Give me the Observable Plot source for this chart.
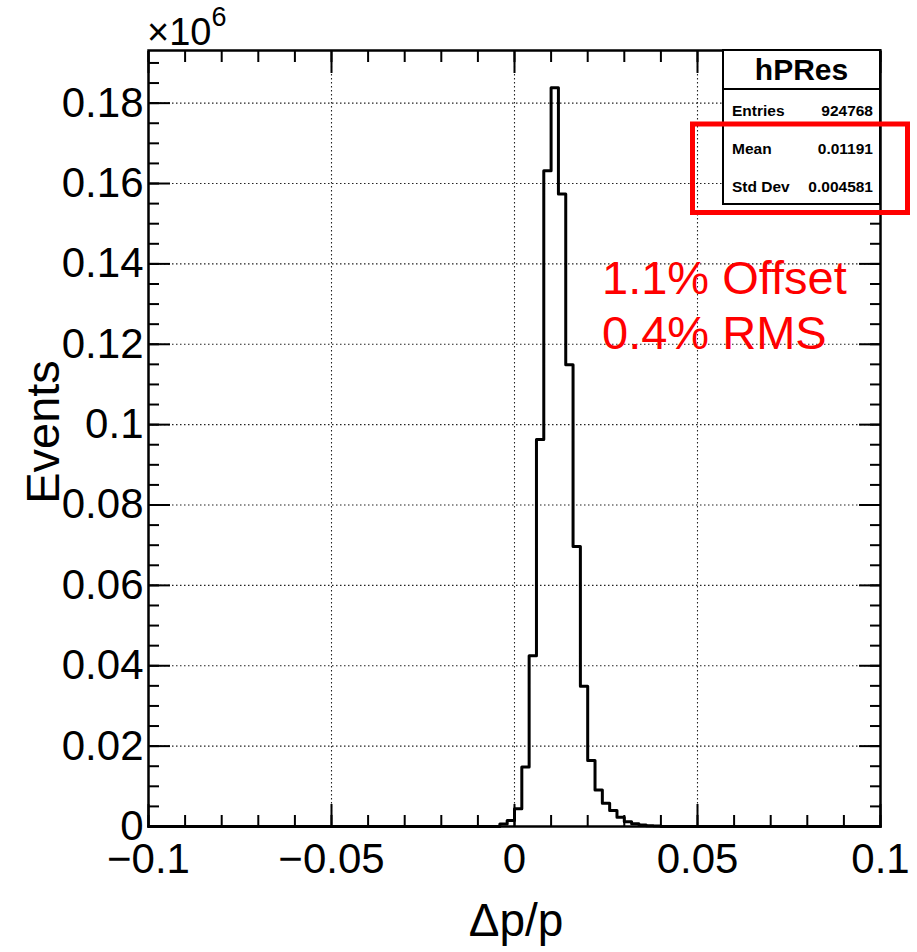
<!DOCTYPE html>
<html>
<head>
<meta charset="utf-8">
<script src="https://cdn.jsdelivr.net/npm/d3@7"></script>
<script src="https://cdn.jsdelivr.net/npm/@observablehq/plot@0.6"></script>
<style>
  html, body { margin: 0; padding: 0; background: #fff; }
  #chart { position: relative; width: 917px; height: 952px; }
</style>
</head>
<body>
<div id="chart"></div>
<script>
// ---- data (counts in units of 10^6 events, bin width 0.002) ----
const binLow = [-0.004, -0.002, 0.000, 0.002, 0.004, 0.006, 0.008, 0.010, 0.012, 0.014, 0.016,
                0.018, 0.020, 0.022, 0.024, 0.026, 0.028, 0.030, 0.032, 0.034, 0.036, 0.038];
const counts = [0.0006, 0.0015, 0.0044, 0.0148, 0.0425, 0.0963, 0.1632, 0.1838, 0.1574, 0.1149, 0.0697,
                0.0349, 0.0164, 0.0091, 0.0058, 0.0040, 0.0023, 0.0012, 0.0007, 0.0004, 0.0002, 0.0001];
const binWidth = 0.002;

const xTickValues = [-0.1, -0.05, 0, 0.05, 0.1];
const xTickLabels = ["\u22120.1", "\u22120.05", "0", "0.05", "0.1"];
const yTickValues = [0, 0.02, 0.04, 0.06, 0.08, 0.1, 0.12, 0.14, 0.16, 0.18];
const yTickLabels = ["0", "0.02", "0.04", "0.06", "0.08", "0.1", "0.12", "0.14", "0.16", "0.18"];

const statTitle = "hPRes";
const statNames = ["Entries", "Mean", "Std Dev"];
const statValues = ["924768", "0.01191", "0.004581"];
const noteLines = ["1.1% Offset", "0.4% RMS"];
const xTitle = "\u0394p/p";
const yTitle = "Events";

// ---- build step outline from the bins ----
const xMin = -0.1, xMax = 0.1, yMax = 0.1931;
const steps = [{x: xMin, y: 0}];
binLow.forEach((lo, i) => steps.push({x: lo, y: counts[i]}));
steps.push({x: binLow[binLow.length - 1] + binWidth, y: 0});
steps.push({x: xMax, y: 0});

const xMinor = d3.range(-10, 11).map(i => i / 100);
const yMinor = d3.range(0, 39).map(i => i * 0.005).filter(v => v <= yMax);

const font = "'Liberation Sans', Arial, Helvetica, sans-serif";
const xFmt = d => xTickLabels[xTickValues.findIndex(v => Math.abs(v - d) < 1e-9)] ?? "";
const yFmt = d => yTickLabels[yTickValues.findIndex(v => Math.abs(v - d) < 1e-9)] ?? "";
const blank = () => "";
const tk = {tickFormat: blank, strokeWidth: 2, label: null};

const plot = Plot.plot({
  width: 917,
  height: 952,
  marginLeft: 148,
  marginRight: 37,
  marginTop: 50,
  marginBottom: 126,
  style: {fontFamily: font, fontSize: "42px", background: "#fff", color: "#000"},
  x: {domain: [xMin, xMax], axis: null},
  y: {domain: [0, yMax], axis: null},
  marks: [
    Plot.gridX(xTickValues.slice(1, -1), {stroke: "#222", strokeOpacity: 1, strokeWidth: 1.1, strokeDasharray: "1.5,2.5"}),
    Plot.gridY(yTickValues.slice(1), {stroke: "#222", strokeOpacity: 1, strokeWidth: 1.1, strokeDasharray: "1.5,2.5"}),
    // inward ticks (ROOT style) on all four sides
    Plot.axisX(xMinor, {anchor: "bottom", tickSize: -11, ...tk}),
    Plot.axisX(xTickValues, {anchor: "bottom", tickSize: -22, ...tk}),
    Plot.axisX(xMinor, {anchor: "top", tickSize: -11, ...tk}),
    Plot.axisX(xTickValues, {anchor: "top", tickSize: -22, ...tk}),
    Plot.axisY(yMinor, {anchor: "left", tickSize: -11, ...tk}),
    Plot.axisY(yTickValues, {anchor: "left", tickSize: -22, ...tk}),
    Plot.axisY(yMinor, {anchor: "right", tickSize: -11, ...tk}),
    Plot.axisY(yTickValues, {anchor: "right", tickSize: -22, ...tk}),
    // tick labels
    Plot.axisX(xTickValues, {anchor: "bottom", tickSize: 0, tickPadding: 17, tickFormat: xFmt, fontSize: 42, label: null}),
    Plot.axisY(yTickValues, {anchor: "left", tickSize: 0, tickPadding: 5, tickFormat: yFmt, fontSize: 42, label: null}),
    // histogram outline
    Plot.line(steps, {x: "x", y: "y", curve: "step-after", stroke: "#000", strokeWidth: 3}),
    Plot.frame({stroke: "#000", strokeWidth: 2.5})
  ]
});

document.getElementById("chart").appendChild(plot);

// ---- annotations overlay (titles, stats box, note) ----
const svg = d3.select(plot);
const g = svg.append("g").attr("font-family", font).attr("text-anchor", "start");

// exponent label
const ex = g.append("text").attr("x", 147).attr("y", 45).attr("font-size", 38).attr("text-anchor", "start");
ex.append("tspan").text("\u00d710");
ex.append("tspan").attr("font-size", 27).attr("dy", -19).text("6");

// axis titles
g.append("text").attr("x", 516).attr("y", 936).attr("text-anchor", "middle")
  .attr("font-size", 46).text(xTitle);
g.append("text").attr("transform", "translate(59,432) rotate(-90)").attr("text-anchor", "middle")
  .attr("font-size", 47).text(yTitle);

// stats box
const bx0 = 723, bx1 = 880, by0 = 50, bySep = 89, by1 = 204;
g.append("rect").attr("x", bx0).attr("y", by0).attr("width", bx1 - bx0).attr("height", by1 - by0)
  .attr("fill", "#fff").attr("stroke", "#000").attr("stroke-width", 2);
g.append("line").attr("x1", bx0).attr("x2", bx1).attr("y1", bySep).attr("y2", bySep)
  .attr("stroke", "#000").attr("stroke-width", 2);
g.append("text").attr("x", (bx0 + bx1) / 2).attr("y", 80).attr("text-anchor", "middle")
  .attr("font-size", 30).attr("font-weight", "bold").text(statTitle);
const rowY = [116, 154, 192];
statNames.forEach((n, i) => {
  g.append("text").attr("x", 732).attr("y", rowY[i]).attr("text-anchor", "start")
    .attr("font-size", 15.5).attr("font-weight", "bold").text(n);
  g.append("text").attr("x", 873).attr("y", rowY[i]).attr("text-anchor", "end")
    .attr("font-size", 15.5).attr("font-weight", "bold").text(statValues[i]);
});

// red highlight box
g.append("rect").attr("x", 692.5).attr("y", 124).attr("width", 215).attr("height", 88.5)
  .attr("fill", "none").attr("stroke", "#ff0000").attr("stroke-width", 5);

// red note
const noteY = [294, 349];
noteLines.forEach((t, i) => {
  g.append("text").attr("x", 602).attr("y", noteY[i]).attr("text-anchor", "start")
    .attr("font-size", 47).attr("fill", "#ff0000").text(t);
});
</script>
</body>
</html>
